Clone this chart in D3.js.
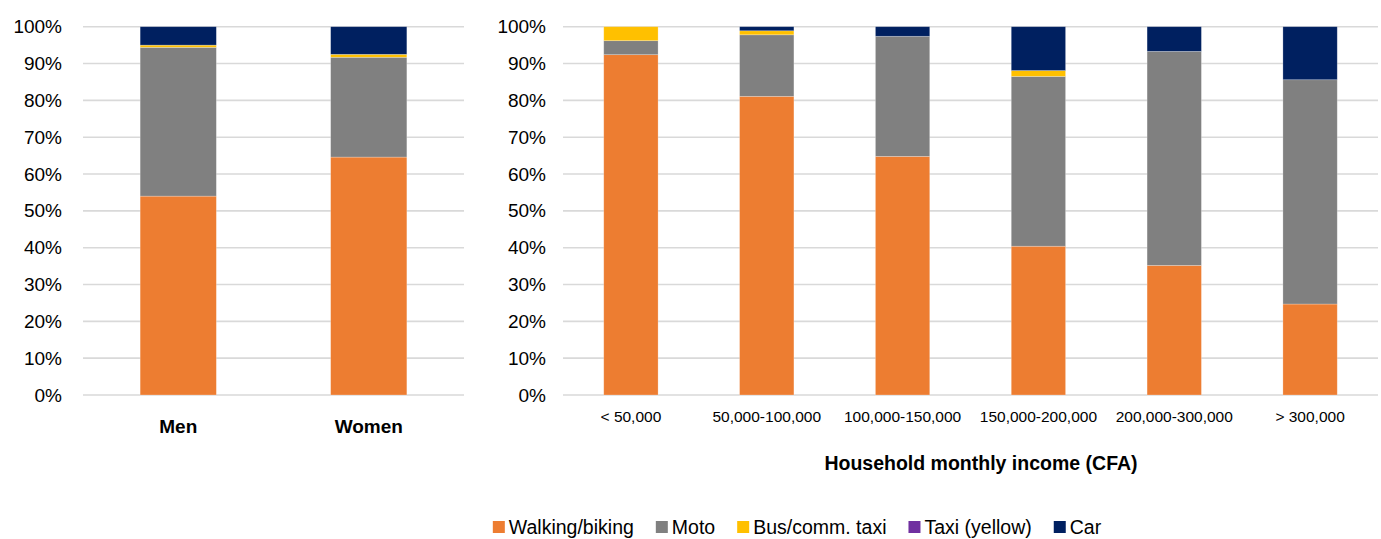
<!DOCTYPE html>
<html>
<head>
<meta charset="utf-8">
<script src="https://cdn.jsdelivr.net/npm/d3@7"></script>
<style>
  html, body { margin: 0; padding: 0; background: #fff; }
  svg { display: block; font-family: "Liberation Sans", Arial, sans-serif; }
</style>
</head>
<body>
<svg id="chart" width="1381" height="539"></svg>
<script>
// Transport modes (stack order, bottom to top)
const modes = ["Walking/biking", "Moto", "Bus/comm. taxi", "Taxi (yellow)", "Car"];
const modeColors = ["#ED7D31", "#808080", "#FFC000", "#7030A0", "#002060"];

// Mode shares by gender (%)
const genderCategories = ["Men", "Women"];
const genderWalking = [54.0, 64.6];
const genderMoto    = [40.4, 27.1];
const genderBus     = [0.6, 0.8];
const genderTaxi    = [0.0, 0.0];
const genderCar     = [5.0, 7.5];

// Mode shares by household monthly income (%)
const incomeCategories = ["< 50,000", "50,000-100,000", "100,000-150,000", "150,000-200,000", "200,000-300,000", "> 300,000"];
const incomeWalking = [92.4, 81.1, 64.8, 40.4, 35.2, 24.7];
const incomeMoto    = [3.8, 16.7, 32.6, 46.1, 58.1, 60.9];
const incomeBus     = [3.8, 1.1, 0.0, 1.6, 0.0, 0.0];
const incomeTaxi    = [0.0, 0.0, 0.0, 0.0, 0.0, 0.0];
const incomeCar     = [0.0, 1.1, 2.6, 11.9, 6.7, 14.4];

const yTicks = [0, 10, 20, 30, 40, 50, 60, 70, 80, 90, 100];

const svg = d3.select("#chart");
const color = d3.scaleOrdinal().domain(modes).range(modeColors);
const y = d3.scaleLinear().domain([0, 100]).range([395, 26.7]);

function rows(cats, series) {
  return cats.map((c, i) => {
    const r = { cat: c };
    modes.forEach((m, j) => { r[m] = series[j][i]; });
    return r;
  });
}

function panel(opts) {
  const { cats, series, x0, x1, labelRight, catFont, catWeight, catY } = opts;
  const g = svg.append("g");
  const x = d3.scaleBand().domain(cats).range([x0, x1]).paddingInner(0.6).paddingOuter(0.3);

  // horizontal gridlines
  g.append("g").selectAll("line").data(yTicks).join("line")
    .attr("x1", x0).attr("x2", x1)
    .attr("y1", d => y(d)).attr("y2", d => y(d))
    .attr("stroke", "#d9d9d9").attr("stroke-width", 1.6);

  // y axis tick labels
  const yAxis = d3.axisLeft(y).tickValues(yTicks).tickFormat(d => d + "%").tickSize(0).tickPadding(0);
  const ya = g.append("g").attr("transform", `translate(${labelRight},0)`).call(yAxis);
  ya.select(".domain").remove();
  ya.selectAll("text").attr("font-size", 19).attr("fill", "#000")
    .attr("font-family", "'Liberation Sans', Arial, sans-serif");

  // stacked bars
  const stacked = d3.stack().keys(modes)(rows(cats, series));
  g.append("g").selectAll("g").data(stacked).join("g")
    .attr("fill", d => color(d.key))
    .selectAll("rect").data(d => d).join("rect")
      .attr("x", d => x(d.data.cat))
      .attr("width", x.bandwidth())
      .attr("y", d => y(d[1]))
      .attr("height", d => Math.max(0, y(d[0]) - y(d[1])))
      .attr("stroke", "rgba(255,255,255,0.35)").attr("stroke-width", 0.7);

  // category labels
  const xAxis = d3.axisBottom(x).tickSize(0).tickPadding(0);
  const xa = g.append("g").attr("transform", `translate(0,${catY})`).call(xAxis);
  xa.select(".domain").remove();
  xa.selectAll("text").attr("font-size", catFont).attr("font-weight", catWeight)
    .attr("fill", "#000").attr("dy", "0.35em")
    .attr("font-family", "'Liberation Sans', Arial, sans-serif");
  return x;
}

panel({
  cats: genderCategories,
  series: [genderWalking, genderMoto, genderBus, genderTaxi, genderCar],
  x0: 83, x1: 464, labelRight: 62, catFont: 19, catWeight: "bold", catY: 426
});

panel({
  cats: incomeCategories,
  series: [incomeWalking, incomeMoto, incomeBus, incomeTaxi, incomeCar],
  x0: 563, x1: 1378, labelRight: 546, catFont: 15.5, catWeight: "normal", catY: 417
});

// income axis title
svg.append("text")
  .attr("x", 981).attr("y", 463).attr("dy", "0.35em")
  .attr("text-anchor", "middle").attr("font-size", 19.5).attr("font-weight", "bold")
  .attr("fill", "#000")
  .text("Household monthly income (CFA)");

// legend
const legend = svg.append("g");
let cursor = 0;
modes.forEach((m, i) => {
  const item = legend.append("g").attr("transform", `translate(${cursor},0)`);
  item.append("rect").attr("x", 0).attr("y", -6).attr("width", 12).attr("height", 12).attr("fill", color(m));
  const t = item.append("text").attr("x", 16).attr("y", 0).attr("dy", "0.35em")
    .attr("font-size", 19.5).attr("fill", "#000").text(m);
  cursor += 16 + t.node().getComputedTextLength() + 22;
});
const legendWidth = cursor - 22;
legend.attr("transform", `translate(${797 - legendWidth / 2},527)`);
</script>
</body>
</html>
